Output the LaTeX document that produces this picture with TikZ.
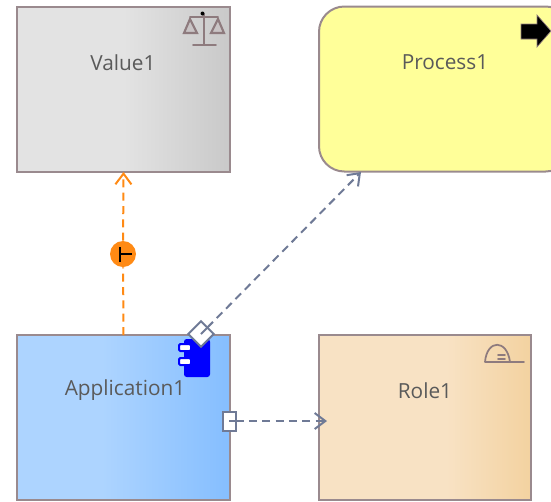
\documentclass[tikz,border=0pt]{standalone}
\usepackage{fontspec}
\setmainfont{Open Sans}
\usetikzlibrary{arrows.meta}
\definecolor{edgeb}{HTML}{9A8A8E}
\definecolor{txt}{HTML}{5A5A5A}
\definecolor{conn}{HTML}{6F7A96}
\definecolor{orng}{HTML}{FF8A14}
\definecolor{icon}{HTML}{8E7B7E}
\definecolor{va}{HTML}{E3E3E3}
\definecolor{vb}{HTML}{C9C9C9}
\definecolor{aa}{HTML}{ADD4FF}
\definecolor{ab}{HTML}{85BEFF}
\definecolor{ra}{HTML}{F8E2C4}
\definecolor{rb}{HTML}{F3D2A0}
\definecolor{pf}{HTML}{FFFF99}
\pgfdeclarehorizontalshading{valsh}{100bp}{color(0bp)=(va); color(50bp)=(va); color(75bp)=(vb); color(100bp)=(vb)}
\pgfdeclarehorizontalshading{appsh}{100bp}{color(0bp)=(aa); color(45bp)=(aa); color(75bp)=(ab); color(100bp)=(ab)}
\pgfdeclarehorizontalshading{rolesh}{100bp}{color(0bp)=(ra); color(55bp)=(ra); color(75bp)=(rb); color(100bp)=(rb)}
\tikzset{
 x=0.75pt,y=-0.75pt,
 boxb/.style={draw=edgeb,line width=1.5pt,minimum width=#1*0.75pt,inner sep=0pt,outer sep=0pt,minimum height=165*0.75pt},
 lab/.style={text=txt,font=\fontsize{15.6}{18}\selectfont,inner sep=0pt},
 dashb/.style={dash pattern=on 6pt off 4pt,line width=1.5pt},
 vtip/.style={-{Straight Barb[length=8pt,width=12pt,line width=1.5pt]}},
 iconl/.style={draw=icon,line width=1.2pt,line cap=round},
 port/.style={draw=conn,fill=white,line width=1.5pt,inner sep=0pt,outer sep=0pt}
}
\begin{document}
\begin{tikzpicture}
\useasboundingbox (0,0) rectangle (551,501);
\node[boxb=213,shading=valsh] (value) at (123.5,89.5) {};
\node[boxb=252,rounded corners=19pt,fill=pf] (process) at (445,89) {};
\node[boxb=213,shading=appsh] (app) at (123.5,417.5) {};
\node[boxb=212,shading=rolesh] (role) at (425,417) {};
\node[lab] (lv) at (123,62.5) {Value1};
\node[lab] (lp) at (445,62.5) {Process1};
\node[lab] (la) at (125,390.5) {Application1};
\node[lab] (lr) at (425,390.5) {Role1};
% scale icon
\draw[iconl] (204,14) -- (204,44) (193,45) -- (216,45) (190,17) -- (218,17);
\draw[iconl,line width=1.6pt,fill=edgeb!35!va] (190,19) -- (184,33) -- (197,33) -- cycle (218,19) -- (211,33) -- (224,33) -- cycle;
\fill[black] (202.5,13.5) circle[radius=2];
% process arrow icon
\fill[black,draw=icon,line width=0.5pt] (521,24) -- (537,24) -- (537,15) -- (551,31) -- (537,47) -- (537,39) -- (521,39) -- cycle;
% role icon
\draw[iconl,line width=1.3pt] (485,362) -- (524,362) (485,362) .. controls (487,339) and (507,339) .. (510,362);
\draw[iconl] (498,355) -- (505,355) (498,359) -- (505,359);
% component icon
\fill[blue,rounded corners=2pt] (184,339) rectangle (210,377);
\draw[blue,fill=white,line width=1.5pt,rounded corners=1pt] (179,344) rectangle (191,351) (179,358) rectangle (191,365);
% connectors
\node[circle,fill=orng,minimum size=26*0.75pt,inner sep=0pt] (junction) at (123,254) {};
\draw[line width=1.5pt,black] (120,262) -- (120,247) (120,254) -- (132,254);
\coordinate (pe) at (361,172);
\coordinate (re) at (327,421);
\node[port,shape=rectangle,minimum size=18*0.75pt,rotate=45] (dia) at (201,334) {};
\node[port,minimum width=13*0.75pt,minimum height=19*0.75pt] (pt) at (229,421) {};
\draw[port] (229,421) -- (235,421);
\draw[port] (201,334) -- (207,328);
\draw[orng,dashb,vtip] (app.north) -- (junction) -- (value.south);
\draw[conn,dashb,vtip] (dia) -- (pe);
\draw[conn,dashb,vtip] (pt) -- (re);
\end{tikzpicture}
\end{document}
